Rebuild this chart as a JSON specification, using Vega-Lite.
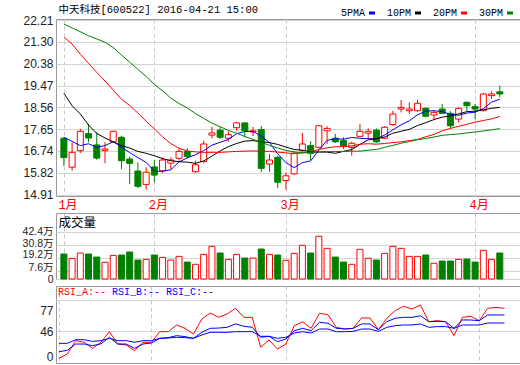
{
  "$schema": "https://vega.github.io/schema/vega-lite/v6.json",
  "padding": {"left": 0, "top": 3, "right": 0, "bottom": 0},
  "background": "white",
  "datasets": {
    "d": [
      {"i":0,"o":17.27,"h":17.31,"l":16.12,"c":16.46,"v":22.4,"m5":17.30,"m10":19.15,"m20":21.49,"m30":22.04,"ra":6.8,"rb":16.5,"rc":28.7},
      {"i":1,"o":16.06,"h":17.10,"l":15.91,"c":16.68,"v":18.5,"m5":17.14,"m10":18.63,"m20":21.21,"m30":21.88,"ra":13.1,"rb":18.5,"rc":28.7},
      {"i":2,"o":16.75,"h":17.66,"l":16.65,"c":17.56,"v":23.3,"m5":16.96,"m10":18.28,"m20":20.78,"m30":21.72,"ra":32.6,"rb":27.7,"rc":34.0},
      {"i":3,"o":17.46,"h":17.86,"l":17.10,"c":17.28,"v":22.4,"m5":17.04,"m10":17.82,"m20":20.40,"m30":21.55,"ra":30.2,"rb":27.7,"rc":34.0},
      {"i":4,"o":16.99,"h":17.52,"l":16.37,"c":16.44,"v":19.7,"m5":16.89,"m10":17.47,"m20":20.02,"m30":21.42,"ra":21.4,"rb":25.3,"rc":31.6},
      {"i":5,"o":16.75,"h":17.10,"l":16.23,"c":16.82,"v":15.0,"m5":16.96,"m10":17.28,"m20":19.66,"m30":21.28,"ra":30.2,"rb":28.0,"rc":32.6},
      {"i":6,"o":17.12,"h":17.58,"l":17.10,"c":17.56,"v":21.2,"m5":17.13,"m10":17.12,"m20":19.28,"m30":21.06,"ra":45.7,"rb":37.5,"rc":36.0},
      {"i":7,"o":17.31,"h":17.38,"l":15.98,"c":16.33,"v":21.5,"m5":16.90,"m10":16.96,"m20":18.90,"m30":20.75,"ra":27.7,"rb":27.7,"rc":32.6},
      {"i":8,"o":16.40,"h":16.51,"l":15.36,"c":16.22,"v":24.2,"m5":16.67,"m10":16.86,"m20":18.64,"m30":20.45,"ra":26.3,"rb":27.7,"rc":32.6},
      {"i":9,"o":15.90,"h":16.26,"l":15.19,"c":15.26,"v":17.0,"m5":16.46,"m10":16.72,"m20":18.32,"m30":20.15,"ra":18.0,"rb":21.4,"rc":30.2},
      {"i":10,"o":15.34,"h":16.05,"l":15.12,"c":15.85,"v":17.6,"m5":16.26,"m10":16.64,"m20":17.98,"m30":19.85,"ra":30.2,"rb":27.7,"rc":32.6},
      {"i":11,"o":16.07,"h":16.36,"l":15.43,"c":15.73,"v":21.5,"m5":15.89,"m10":16.54,"m20":17.66,"m30":19.52,"ra":30.2,"rb":29.2,"rc":32.6},
      {"i":12,"o":15.91,"h":16.47,"l":15.82,"c":16.36,"v":19.4,"m5":15.89,"m10":16.42,"m20":17.33,"m30":19.25,"ra":45.7,"rb":36.0,"rc":36.0},
      {"i":13,"o":16.23,"h":16.47,"l":15.98,"c":16.36,"v":17.0,"m5":15.95,"m10":16.33,"m20":17.05,"m30":18.95,"ra":45.7,"rb":37.0,"rc":36.5},
      {"i":14,"o":16.43,"h":16.85,"l":16.33,"c":16.72,"v":20.3,"m5":16.28,"m10":16.29,"m20":16.85,"m30":18.72,"ra":55.5,"rb":39.9,"rc":37.5},
      {"i":15,"o":16.71,"h":16.86,"l":16.43,"c":16.51,"v":15.2,"m5":16.45,"m10":16.27,"m20":16.74,"m30":18.54,"ra":50.6,"rb":38.5,"rc":37.0},
      {"i":16,"o":15.87,"h":16.33,"l":15.82,"c":16.16,"v":13.2,"m5":16.58,"m10":16.22,"m20":16.70,"m30":18.30,"ra":42.3,"rb":36.0,"rc":36.0},
      {"i":17,"o":16.29,"h":17.17,"l":16.26,"c":17.03,"v":22.1,"m5":16.75,"m10":16.32,"m20":16.68,"m30":18.10,"ra":64.2,"rb":44.8,"rc":40.9},
      {"i":18,"o":17.40,"h":17.75,"l":17.27,"c":17.49,"v":29.3,"m5":16.98,"m10":16.52,"m20":16.68,"m30":17.90,"ra":73.0,"rb":50.6,"rc":44.8},
      {"i":19,"o":17.61,"h":17.73,"l":17.24,"c":17.31,"v":23.3,"m5":17.10,"m10":16.74,"m20":16.68,"m30":17.75,"ra":66.7,"rb":51.0,"rc":44.8},
      {"i":20,"o":17.27,"h":17.56,"l":17.12,"c":17.42,"v":17.6,"m5":17.22,"m10":16.92,"m20":16.70,"m30":17.60,"ra":71.5,"rb":52.1,"rc":44.8},
      {"i":21,"o":17.71,"h":17.96,"l":17.58,"c":17.91,"v":22.1,"m5":17.46,"m10":17.05,"m20":16.72,"m30":17.48,"ra":79.8,"rb":57.0,"rc":45.7},
      {"i":22,"o":17.91,"h":17.93,"l":17.31,"c":17.58,"v":18.8,"m5":17.55,"m10":17.15,"m20":16.73,"m30":17.34,"ra":66.7,"rb":53.6,"rc":45.7},
      {"i":23,"o":17.53,"h":17.74,"l":17.36,"c":17.58,"v":18.8,"m5":17.56,"m10":17.17,"m20":16.74,"m30":17.22,"ra":66.7,"rb":52.1,"rc":45.7},
      {"i":24,"o":17.63,"h":17.79,"l":15.85,"c":16.01,"v":26.9,"m5":17.35,"m10":17.12,"m20":16.73,"m30":17.10,"ra":22.9,"rb":37.5,"rc":39.0},
      {"i":25,"o":16.19,"h":16.61,"l":15.87,"c":16.36,"v":22.1,"m5":17.09,"m10":17.09,"m20":16.72,"m30":16.97,"ra":33.6,"rb":39.0,"rc":39.0},
      {"i":26,"o":16.47,"h":16.54,"l":15.18,"c":15.43,"v":21.5,"m5":16.62,"m10":17.01,"m20":16.69,"m30":16.86,"ra":20.4,"rb":31.1,"rc":36.0},
      {"i":27,"o":15.50,"h":15.85,"l":15.12,"c":15.70,"v":16.8,"m5":16.25,"m10":16.90,"m20":16.66,"m30":16.76,"ra":27.7,"rb":35.0,"rc":37.5},
      {"i":28,"o":15.78,"h":16.71,"l":15.73,"c":16.65,"v":23.0,"m5":16.04,"m10":16.80,"m20":16.62,"m30":16.70,"ra":54.5,"rb":47.2,"rc":43.8},
      {"i":29,"o":16.75,"h":17.49,"l":16.68,"c":17.03,"v":30.2,"m5":16.25,"m10":16.77,"m20":16.66,"m30":16.66,"ra":60.3,"rb":50.6,"rc":45.7},
      {"i":30,"o":16.96,"h":17.14,"l":16.36,"c":16.64,"v":23.3,"m5":16.32,"m10":16.70,"m20":16.70,"m30":16.67,"ra":50.6,"rb":47.2,"rc":43.8},
      {"i":31,"o":16.89,"h":17.82,"l":16.85,"c":17.79,"v":38.3,"m5":16.78,"m10":16.69,"m20":16.80,"m30":16.71,"ra":72.6,"rb":59.4,"rc":49.6},
      {"i":32,"o":17.58,"h":17.77,"l":17.03,"c":17.68,"v":27.5,"m5":17.18,"m10":16.69,"m20":16.87,"m30":16.71,"ra":70.5,"rb":58.0,"rc":49.6},
      {"i":33,"o":17.27,"h":17.45,"l":17.07,"c":17.12,"v":19.7,"m5":17.25,"m10":16.64,"m20":16.91,"m30":16.71,"ra":52.1,"rb":50.6,"rc":45.7},
      {"i":34,"o":17.17,"h":17.31,"l":16.82,"c":16.93,"v":15.2,"m5":17.23,"m10":16.72,"m20":16.92,"m30":16.72,"ra":49.6,"rb":49.6,"rc":45.7},
      {"i":35,"o":16.89,"h":17.12,"l":16.54,"c":17.06,"v":13.2,"m5":17.30,"m10":16.80,"m20":16.95,"m30":16.73,"ra":50.6,"rb":50.6,"rc":46.2},
      {"i":36,"o":17.35,"h":17.86,"l":17.31,"c":17.56,"v":26.6,"m5":17.27,"m10":17.01,"m20":17.02,"m30":16.73,"ra":65.7,"rb":57.0,"rc":49.6},
      {"i":37,"o":17.48,"h":17.68,"l":17.24,"c":17.56,"v":18.6,"m5":17.25,"m10":17.20,"m20":17.04,"m30":16.77,"ra":65.7,"rb":57.0,"rc":49.6},
      {"i":38,"o":17.61,"h":17.68,"l":17.07,"c":17.12,"v":17.0,"m5":17.25,"m10":17.25,"m20":17.02,"m30":16.80,"ra":48.6,"rb":48.6,"rc":46.2},
      {"i":39,"o":17.27,"h":17.77,"l":17.24,"c":17.73,"v":23.0,"m5":17.40,"m10":17.32,"m20":17.05,"m30":16.89,"ra":65.3,"rb":60.3,"rc":52.1},
      {"i":40,"o":17.84,"h":18.42,"l":17.79,"c":18.28,"v":29.3,"m5":17.62,"m10":17.48,"m20":17.09,"m30":16.97,"ra":76.4,"rb":65.3,"rc":54.5},
      {"i":41,"o":18.49,"h":18.87,"l":18.35,"c":18.56,"v":27.5,"m5":17.83,"m10":17.56,"m20":17.12,"m30":17.06,"ra":82.8,"rb":66.7,"rc":55.5},
      {"i":42,"o":18.42,"h":18.77,"l":18.28,"c":18.49,"v":20.3,"m5":18.00,"m10":17.64,"m20":17.17,"m30":17.13,"ra":78.8,"rb":66.7,"rc":55.5},
      {"i":43,"o":18.42,"h":18.87,"l":18.38,"c":18.73,"v":20.3,"m5":18.25,"m10":17.80,"m20":17.22,"m30":17.21,"ra":84.7,"rb":69.0,"rc":57.0},
      {"i":44,"o":18.52,"h":18.56,"l":18.14,"c":18.19,"v":21.5,"m5":18.40,"m10":17.92,"m20":17.33,"m30":17.26,"ra":60.3,"rb":60.3,"rc":52.1},
      {"i":45,"o":18.24,"h":18.42,"l":18.07,"c":18.35,"v":14.1,"m5":18.42,"m10":18.05,"m20":17.43,"m30":17.32,"ra":61.8,"rb":60.8,"rc":53.1},
      {"i":46,"o":18.49,"h":18.70,"l":18.28,"c":18.31,"v":16.1,"m5":18.38,"m10":18.15,"m20":17.58,"m30":17.39,"ra":60.3,"rb":60.3,"rc":53.1},
      {"i":47,"o":18.31,"h":18.40,"l":17.66,"c":17.79,"v":16.1,"m5":18.27,"m10":18.20,"m20":17.68,"m30":17.42,"ra":39.9,"rb":50.6,"rc":50.6},
      {"i":48,"o":18.07,"h":18.56,"l":17.93,"c":18.52,"v":17.6,"m5":18.23,"m10":18.29,"m20":17.77,"m30":17.45,"ra":66.7,"rb":62.8,"rc":55.5},
      {"i":49,"o":18.77,"h":18.81,"l":18.40,"c":18.63,"v":17.9,"m5":18.32,"m10":18.38,"m20":17.85,"m30":17.49,"ra":68.2,"rb":62.8,"rc":55.5},
      {"i":50,"o":18.59,"h":18.70,"l":18.07,"c":18.49,"v":15.2,"m5":18.36,"m10":18.40,"m20":17.94,"m30":17.53,"ra":61.8,"rb":61.8,"rc":55.5},
      {"i":51,"o":18.42,"h":19.16,"l":18.40,"c":19.12,"v":25.7,"m5":18.51,"m10":18.46,"m20":18.01,"m30":17.57,"ra":79.8,"rb":70.1,"rc":58.4},
      {"i":52,"o":19.05,"h":19.23,"l":18.91,"c":19.12,"v":17.6,"m5":18.78,"m10":18.52,"m20":18.08,"m30":17.62,"ra":81.3,"rb":70.1,"rc":58.4},
      {"i":53,"o":19.21,"h":19.47,"l":18.98,"c":19.12,"v":23.3,"m5":18.90,"m10":18.56,"m20":18.18,"m30":17.67,"ra":79.8,"rb":70.1,"rc":58.4}
    ]
  },
  "config": {
    "view": {"stroke": "#999999", "strokeWidth": 1},
    "axis": {"domain": false, "ticks": false, "labelFont": "Liberation Sans, Noto Sans CJK SC", "labelFontSize": 12, "labelColor": "#222222", "gridColor": "#d4d4d4", "gridWidth": 1, "labelOverlap": false},
    "axisY": {"minExtent": 55, "maxExtent": 55, "labelPadding": 3, "titleAngle": 0, "titleAlign": "left", "titleBaseline": "middle", "titleX": 2, "titleFontWeight": "normal", "titleColor": "#000000"},
    "axisX": {"gridDash": [4, 3], "gridColor": "#c8c8c8", "labelFlush": false}
  },
  "spacing": 17,
  "bounds": "flush",
  "resolve": {"scale": {"color": "independent"}, "legend": {"color": "independent"}},
  "vconcat": [
    {
      "width": 464,
      "height": 177,
      "data": {"name": "d"},
      "encoding": {
        "x": {"field": "i", "type": "quantitative", "scale": {"domain": [-0.35, 54.85], "nice": false, "zero": false},
          "axis": {"values": [0, 11, 27, 50], "title": null, "grid": true, "labelExpr": "datum.value == 0 ? '1月' : datum.value == 11 ? '2月' : datum.value == 27 ? '3月' : '4月'", "labelColor": "#ff0000", "labelAlign": "left", "labelOffset": -6, "labelPadding": 3, "labelFont": "Liberation Mono, Noto Sans CJK SC", "labelFontSize": 12}}
      },
      "layer": [
        {
          "mark": {"type": "rule", "strokeWidth": 1},
          "encoding": {
            "y": {"field": "l", "type": "quantitative", "scale": {"domain": [14.856, 22.252], "nice": false, "zero": false},
              "axis": {"values": [14.91, 15.82, 16.74, 17.65, 18.56, 19.47, 20.38, 21.30, 22.21], "format": ".2f", "grid": true,
                "title": "中天科技[600522] 2016-04-21 15:00", "titleY": -10, "titleFont": "Liberation Mono, Noto Sans CJK SC", "titleFontSize": 10.5}},
            "y2": {"field": "h"},
            "color": {"condition": {"test": "datum.c >= datum.o", "value": "#ff0000"}, "value": "#008000"}
          }
        },
        {
          "mark": {"type": "bar", "width": 6, "strokeWidth": 1},
          "encoding": {
            "y": {"field": "o", "type": "quantitative", "scale": {"domain": [14.856, 22.252], "nice": false, "zero": false},
              "axis": {"values": [14.91, 15.82, 16.74, 17.65, 18.56, 19.47, 20.38, 21.30, 22.21], "format": ".2f", "grid": true,
                "title": "中天科技[600522] 2016-04-21 15:00", "titleY": -10, "titleFont": "Liberation Mono, Noto Sans CJK SC", "titleFontSize": 10.5}},
            "y2": {"field": "c"},
            "fill": {"condition": {"test": "datum.c >= datum.o", "value": "#ffffff"}, "value": "#008000"},
            "stroke": {"condition": {"test": "datum.c >= datum.o", "value": "#ff0000"}, "value": "#008000"}
          }
        },
        {
          "transform": [{"fold": ["m5", "m10", "m20", "m30"], "as": ["k", "val"]}],
          "mark": {"type": "line", "strokeWidth": 1},
          "encoding": {
            "y": {"field": "val", "type": "quantitative", "scale": {"domain": [14.856, 22.252], "nice": false, "zero": false},
              "axis": {"values": [14.91, 15.82, 16.74, 17.65, 18.56, 19.47, 20.38, 21.30, 22.21], "format": ".2f", "grid": true,
                "title": "中天科技[600522] 2016-04-21 15:00", "titleY": -10, "titleFont": "Liberation Mono, Noto Sans CJK SC", "titleFontSize": 10.5}},
            "color": {"field": "k", "type": "nominal",
              "scale": {"domain": ["m5", "m10", "m20", "m30"], "range": ["#0000ff", "#000000", "#ff0000", "#008000"]},
              "legend": {"orient": "none", "legendX": 311, "legendY": -11, "direction": "horizontal", "title": null,
                "labelExpr": "datum.label == 'm5' ? '5PMA' : datum.label == 'm10' ? '10PM' : datum.label == 'm20' ? '20PM' : '30PM'",
                "labelFont": "Liberation Mono", "labelFontSize": 10, "labelColor": "#000000",
                "symbolType": "stroke", "symbolSize": 36, "symbolStrokeWidth": 3,
                "labelAlign": "right", "labelOffset": -12, "columnPadding": 5, "padding": 0}}
          }
        }
      ]
    },
    {
      "spacing": 7,
      "bounds": "flush",
      "vconcat": [
        {
          "width": 464,
          "height": 66,
          "data": {"name": "d"},
          "mark": {"type": "bar", "width": 6, "strokeWidth": 1},
          "encoding": {
            "x": {"field": "i", "type": "quantitative", "scale": {"domain": [-0.35, 54.85], "nice": false, "zero": false},
              "axis": {"values": [0, 11, 27, 50], "title": null, "grid": true, "labels": false}},
            "y": {"field": "v", "type": "quantitative", "scale": {"domain": [0, 59.2], "nice": false},
              "axis": {"values": [0, 7.6, 19.2, 30.8, 42.4], "grid": true, "labelFontSize": 10.5,
                "title": "成交量", "titleY": 9, "titleFont": "Noto Sans CJK SC", "titleFontSize": 12.5,
                "labelOffset": {"condition": [{"test": "datum.value == 7.6 || datum.value == 19.2", "value": -3}, {"test": "datum.value == 30.8", "value": -1.5}], "value": 0},
                "labelExpr": "datum.value == 0 ? '0' : datum.value + '万'"}},
            "fill": {"condition": {"test": "datum.c >= datum.o", "value": "#ffffff"}, "value": "#008000"},
            "stroke": {"condition": {"test": "datum.c >= datum.o", "value": "#ff0000"}, "value": "#008000"}
          }
        },
        {
          "width": 464,
          "height": 77,
          "data": {"name": "d"},
          "transform": [{"fold": ["ra", "rb", "rc"], "as": ["k", "val"]}],
          "mark": {"type": "line", "strokeWidth": 1},
          "encoding": {
            "x": {"field": "i", "type": "quantitative", "scale": {"domain": [-0.35, 54.85], "nice": false, "zero": false},
              "axis": {"values": [0, 11, 27, 50], "title": null, "grid": true, "labels": false}},
            "y": {"field": "val", "type": "quantitative", "scale": {"domain": [0, 112.4], "nice": false},
              "axis": {"values": [0, 46, 77, 92], "title": null, "grid": true, "labelFlush": true,
                "labelExpr": "datum.value == 92 ? '' : datum.label",
                "gridOpacity": {"condition": {"test": "datum.value == 77 || datum.value == 0", "value": 0}, "value": 1}}},
            "color": {"field": "k", "type": "nominal",
              "scale": {"domain": ["ra", "rb", "rc"], "range": ["#ff0000", "#0000ff", "#0000ff"]},
              "legend": {"orient": "none", "legendX": 2, "legendY": 74, "direction": "horizontal", "title": null,
                "labelExpr": "datum.label == 'ra' ? 'RSI_A:--' : datum.label == 'rb' ? 'RSI_B:--' : 'RSI_C:--'",
                "labelFont": "Liberation Mono", "labelFontSize": 10,
                "labelColor": {"expr": "datum.value == 'ra' ? '#ff0000' : '#0000ff'"},
                "symbolOpacity": 0, "symbolSize": 1, "labelOffset": -10, "columnPadding": 5, "padding": 0}}
          }
        }
      ]
    }
  ]
}
